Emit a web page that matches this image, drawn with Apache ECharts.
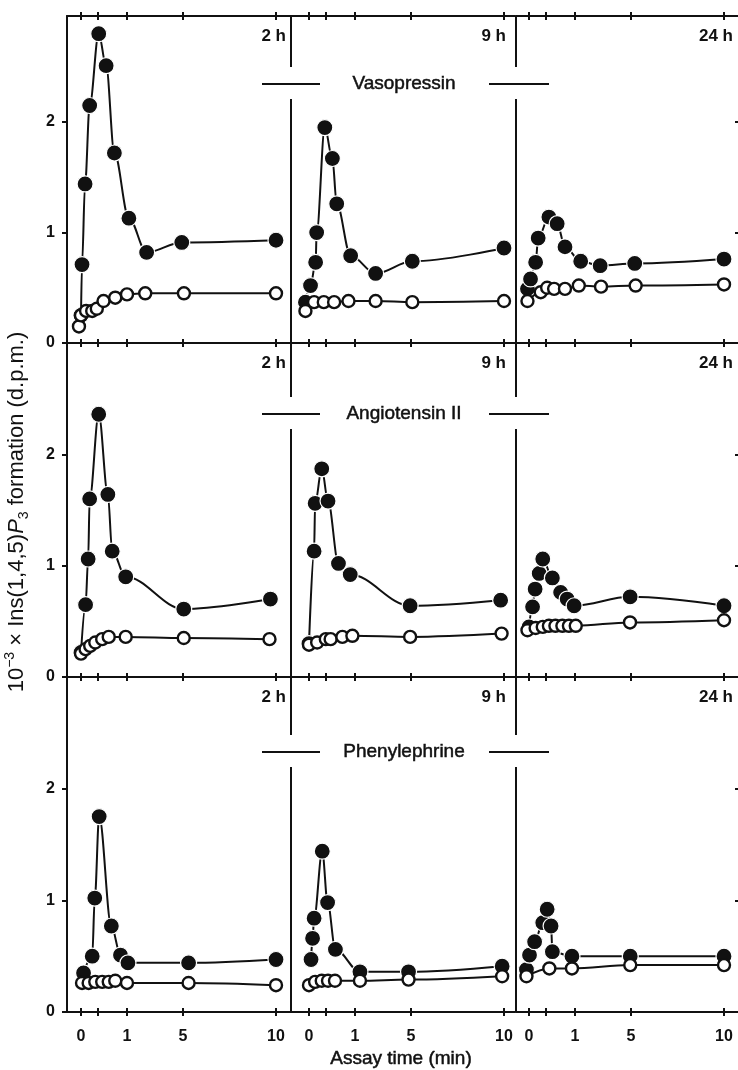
<!DOCTYPE html>
<html>
<head>
<meta charset="utf-8">
<title>Ins(1,4,5)P3 formation</title>
<script src="https://cdn.jsdelivr.net/npm/echarts@6/dist/echarts.min.js"></script>
<style>
  html, body { margin: 0; padding: 0; background: #fff; }
  #main { width: 738px; height: 1070px; }
</style>
</head>
<body>
<div id="main"></div>
<script>
// rows = agonist, columns = preincubation time
const drugNames = ['Vasopressin', 'Angiotensin II', 'Phenylephrine'];
const preincubation = ['2 h', '9 h', '24 h'];
const xTickTimes = [0, 1 / 3, 1, 5, 10];
const xLabelTimes = [0, 1, 5, 10];
const yTicks = [0, 1, 2];
const yRightTicks = [1, 2];

// [assay time (min), 10^-3 x Ins(1,4,5)P3 (d.p.m.)]
// Stim = filled circles, Basal = open circles
const vaso2hStim = [[0, 0.25], [0.02, 0.71], [0.08, 1.44], [0.17, 2.15], [0.35, 2.80], [0.52, 2.51], [0.71, 1.72], [1.1, 1.13], [2.05, 0.82], [4.9, 0.91], [10, 0.93]];
const vaso2hBasal = [[-0.04, 0.15], [0, 0.25], [0.1, 0.29], [0.22, 0.29], [0.31, 0.31], [0.46, 0.38], [0.73, 0.41], [1.0, 0.44], [1.96, 0.45], [5.05, 0.45], [10, 0.45]];
const vaso9hStim = [[-0.07, 0.37], [0.03, 0.52], [0.13, 0.73], [0.15, 1.0], [0.31, 1.95], [0.48, 1.67], [0.58, 1.26], [0.9, 0.79], [2.13, 0.63], [5.07, 0.74], [10, 0.86]];
const vaso9hBasal = [[-0.07, 0.29], [0.1, 0.37], [0.29, 0.37], [0.52, 0.37], [0.85, 0.38], [2.13, 0.38], [5.07, 0.37], [10, 0.38]];
const vaso24hStim = [[-0.03, 0.49], [0.03, 0.58], [0.13, 0.73], [0.18, 0.95], [0.4, 1.14], [0.59, 1.08], [0.77, 0.87], [1.3, 0.74], [2.5, 0.70], [5.2, 0.72], [10, 0.76]];
const vaso24hBasal = [[-0.03, 0.38], [0.23, 0.46], [0.36, 0.50], [0.52, 0.49], [0.77, 0.49], [1.2, 0.52], [2.57, 0.51], [5.25, 0.52], [10, 0.53]];

const ang2hStim = [[0, 0.22], [0.09, 0.65], [0.14, 1.06], [0.17, 1.60], [0.35, 2.36], [0.56, 1.64], [0.66, 1.13], [0.97, 0.90], [5.04, 0.61], [9.7, 0.70]];
const ang2hBasal = [[0, 0.21], [0.09, 0.25], [0.18, 0.28], [0.28, 0.31], [0.43, 0.34], [0.58, 0.36], [0.97, 0.36], [5.04, 0.35], [9.65, 0.34]];
const ang9hStim = [[0, 0.30], [0.1, 1.13], [0.12, 1.56], [0.25, 1.87], [0.38, 1.58], [0.62, 1.02], [0.89, 0.92], [4.93, 0.64], [9.82, 0.69]];
const ang9hBasal = [[0, 0.29], [0.16, 0.31], [0.33, 0.34], [0.44, 0.34], [0.71, 0.36], [0.94, 0.37], [4.93, 0.36], [9.87, 0.39]];
const ang24hStim = [[0, 0.45], [0.07, 0.63], [0.12, 0.79], [0.2, 0.93], [0.27, 1.06], [0.48, 0.89], [0.67, 0.76], [0.82, 0.70], [0.98, 0.64], [4.93, 0.72], [10, 0.64]];
const ang24hBasal = [[-0.03, 0.42], [0.13, 0.44], [0.27, 0.45], [0.40, 0.46], [0.55, 0.46], [0.71, 0.46], [0.86, 0.46], [1.04, 0.46], [4.92, 0.49], [10, 0.51]];

const phe2hStim = [[0.05, 0.35], [0.22, 0.50], [0.27, 1.02], [0.36, 1.75], [0.64, 0.77], [0.85, 0.51], [1.05, 0.44], [5.3, 0.44], [10, 0.47]];
const phe2hBasal = [[0.02, 0.26], [0.15, 0.26], [0.28, 0.27], [0.43, 0.27], [0.58, 0.27], [0.73, 0.28], [1.0, 0.26], [5.3, 0.26], [10, 0.24]];
const phe9hStim = [[0.04, 0.47], [0.07, 0.66], [0.1, 0.84], [0.26, 1.44], [0.37, 0.98], [0.55, 0.56], [1.26, 0.36], [4.8, 0.36], [9.9, 0.41]];
const phe9hBasal = [[0, 0.24], [0.12, 0.27], [0.25, 0.28], [0.38, 0.28], [0.54, 0.28], [1.26, 0.28], [4.8, 0.29], [9.9, 0.32]];
const phe24hStim = [[-0.05, 0.38], [0.01, 0.51], [0.11, 0.63], [0.27, 0.80], [0.36, 0.92], [0.45, 0.77], [0.48, 0.54], [0.93, 0.50], [4.94, 0.50], [10, 0.50]];
const phe24hBasal = [[-0.05, 0.32], [0.41, 0.39], [0.93, 0.39], [4.94, 0.42], [10, 0.42]];

const stimSets = [
  [vaso2hStim, vaso9hStim, vaso24hStim],
  [ang2hStim, ang9hStim, ang24hStim],
  [phe2hStim, phe9hStim, phe24hStim]
];
const basalSets = [
  [vaso2hBasal, vaso9hBasal, vaso24hBasal],
  [ang2hBasal, ang9hBasal, ang24hBasal],
  [phe2hBasal, phe9hBasal, phe24hBasal]
];

// the time axis is drawn stretched over the first minute (hand-drawn scale)
const timeKnots = [0, 1 / 3, 1, 2, 5, 10];
const axisKnots = [0, 17, 46, 65, 102, 195];
function timeToAxis(t) {
  let i = 0;
  while (i < timeKnots.length - 2 && t > timeKnots[i + 1]) i++;
  const f = (t - timeKnots[i]) / (timeKnots[i + 1] - timeKnots[i]);
  return axisKnots[i] + f * (axisKnots[i + 1] - axisKnots[i]);
}

// layout
const ink = '#111';
const font = '"Liberation Sans", Arial, sans-serif';
const colLeft = [67, 291, 516];
const colWidth = 224;
const colZero = [14, 18, 13];
const rowTop = [16, 343, 677];
const rowHeight = [327, 334, 335];
const rowMax = [2.96, 3, 3];
const labelY = [84, 414, 752];
const hLabelRight = [286, 506, 733];

var myChart = echarts.init(document.getElementById('main'), null, { renderer: 'canvas' });

const grids = [], xAxes = [], yAxes = [], series = [];
const tickPos = xTickTimes.map(timeToAxis);
const labelPos = xLabelTimes.map(timeToAxis);

function xAxisFor(g, c, position, lineShow, tickInside, label) {
  return {
    type: 'value', gridIndex: g, position: position,
    min: -colZero[c], max: colWidth - colZero[c],
    splitLine: { show: false },
    axisLine: { show: lineShow, onZero: false, lineStyle: { color: ink, width: 2 } },
    axisTick: { show: true, inside: tickInside, length: 4, customValues: tickPos, lineStyle: { color: ink, width: 2 } },
    axisLabel: label || { show: false }
  };
}

for (let r = 0; r < 3; r++) {
  for (let c = 0; c < 3; c++) {
    const g = r * 3 + c;
    grids.push({
      left: colLeft[c], top: rowTop[r], width: colWidth, height: rowHeight[r],
      containLabel: false, outerBoundsMode: 'none'
    });

    let label = null;
    if (r === 2) {
      label = {
        show: true, customValues: labelPos, margin: 17,
        color: ink, fontSize: 16, fontWeight: 'bold', fontFamily: font,
        formatter: function (v) {
          let best = 0;
          labelPos.forEach(function (p, i) { if (Math.abs(p - v) < Math.abs(labelPos[best] - v)) best = i; });
          return String(xLabelTimes[best]);
        }
      };
    }
    const xIdx = xAxes.length;
    xAxes.push(xAxisFor(g, c, 'bottom', true, true, label));
    xAxes.push(xAxisFor(g, c, 'top', true, true));
    if (r === 0) xAxes.push(xAxisFor(g, c, 'top', false, false));
    if (r === 2) xAxes.push(xAxisFor(g, c, 'bottom', false, false));

    const yIdx = yAxes.length;
    if (c === 0) {
      yAxes.push({
        type: 'value', gridIndex: g, position: 'left', min: 0, max: rowMax[r],
        splitLine: { show: false },
        axisLine: { show: true, onZero: false, lineStyle: { color: ink, width: 2 } },
        axisTick: { show: true, inside: false, length: 5, customValues: yTicks, lineStyle: { color: ink, width: 2 } },
        axisLabel: { show: true, customValues: yTicks, margin: 12, color: ink, fontSize: 16, fontWeight: 'bold', fontFamily: font }
      });
    } else {
      yAxes.push({ type: 'value', gridIndex: g, position: 'left', min: 0, max: rowMax[r], show: false, axisLine: { onZero: false } });
    }
    if (c === 2) {
      yAxes.push({
        type: 'value', gridIndex: g, position: 'right', min: 0, max: rowMax[r],
        splitLine: { show: false },
        axisLine: { show: false, onZero: false },
        axisTick: { show: true, inside: true, length: 5, customValues: yRightTicks, lineStyle: { color: ink, width: 2 } },
        axisLabel: { show: false }
      });
    }

    series.push({
      type: 'line', xAxisIndex: xIdx, yAxisIndex: yIdx, z: 2,
      data: stimSets[r][c].map(function (d) { return [timeToAxis(d[0]), d[1]]; }),
      smooth: 0.35, smoothMonotone: 'x',
      symbol: 'circle', symbolSize: 16,
      itemStyle: { color: ink, borderColor: '#fff', borderWidth: 1.2 },
      lineStyle: { color: ink, width: 2 }
    });
    series.push({
      type: 'line', xAxisIndex: xIdx, yAxisIndex: yIdx, z: 3,
      data: basalSets[r][c].map(function (d) { return [timeToAxis(d[0]), d[1]]; }),
      smooth: 0.35, smoothMonotone: 'x',
      symbol: 'circle', symbolSize: 12,
      itemStyle: { color: '#fff', borderColor: ink, borderWidth: 2.4 },
      lineStyle: { color: ink, width: 2 }
    });
  }
}

// dividers between the columns (broken where the agonist name sits), names, time labels
const graphics = [];
for (let r = 0; r < 3; r++) {
  const top = rowTop[r], bottom = rowTop[r] + rowHeight[r];
  [1, 2].forEach(function (c) {
    graphics.push({ type: 'line', shape: { x1: colLeft[c], y1: top, x2: colLeft[c], y2: labelY[r] - 17 }, style: { stroke: ink, lineWidth: 2 } });
    graphics.push({ type: 'line', shape: { x1: colLeft[c], y1: labelY[r] + 15, x2: colLeft[c], y2: bottom }, style: { stroke: ink, lineWidth: 2 } });
  });
  graphics.push({ type: 'line', shape: { x1: 262, y1: labelY[r], x2: 320, y2: labelY[r] }, style: { stroke: ink, lineWidth: 2 } });
  graphics.push({ type: 'line', shape: { x1: 489, y1: labelY[r], x2: 549, y2: labelY[r] }, style: { stroke: ink, lineWidth: 2 } });
  graphics.push({
    type: 'text', x: 404, y: labelY[r],
    style: { text: drugNames[r], align: 'center', verticalAlign: 'middle', fill: ink, stroke: ink, lineWidth: 0.5, fontSize: 19, fontFamily: font }
  });
  for (let c = 0; c < 3; c++) {
    graphics.push({
      type: 'text', x: hLabelRight[c], y: top + 20,
      style: { text: preincubation[c], align: 'right', verticalAlign: 'middle', fill: ink, fontSize: 17, fontWeight: 'bold', fontFamily: font }
    });
  }
}
graphics.push({
  type: 'text', x: 401, y: 1059,
  style: { text: 'Assay time (min)', align: 'center', verticalAlign: 'middle', fill: ink, stroke: ink, lineWidth: 0.5, fontSize: 19, fontFamily: font }
});
graphics.push({
  type: 'text', x: 17, y: 512, rotation: Math.PI / 2,
  style: {
    text: '10{sup|−3} × Ins(1,4,5){it|P}{sub|3} formation (d.p.m.)',
    align: 'center', verticalAlign: 'middle', fill: ink, fontSize: 22, fontFamily: font, lineHeight: 28,
    rich: {
      sup: { fontSize: 14, fontFamily: font, fill: ink, verticalAlign: 'top', lineHeight: 15 },
      it: { fontSize: 22, fontFamily: font, fill: ink, fontStyle: 'italic' },
      sub: { fontSize: 14, fontFamily: font, fill: ink, verticalAlign: 'bottom', lineHeight: 15 }
    }
  }
});

myChart.setOption({
  animation: false,
  backgroundColor: '#fff',
  grid: grids,
  xAxis: xAxes,
  yAxis: yAxes,
  series: series,
  graphic: graphics
});
</script>
</body>
</html>
